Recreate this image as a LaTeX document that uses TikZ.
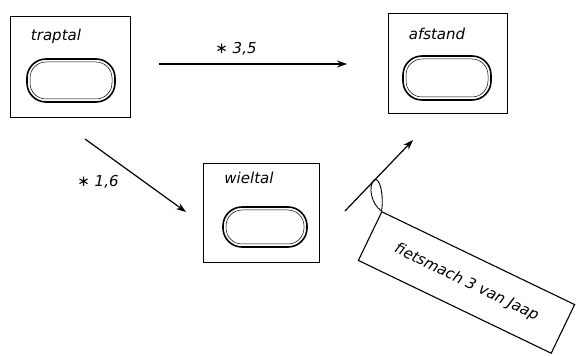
\documentclass[tikz,border=0pt]{standalone}
\usepackage{fontspec}
\setmainfont{DejaVu Sans}
\usetikzlibrary{arrows.meta}
\tikzset{
  knob/.style={draw, line width=1.6pt, rounded corners=19pt},
  knobin/.style={draw, line width=0.5pt, rounded corners=16pt},
  lbl/.style={font=\itshape\fontsize{15}{17}\selectfont, inner sep=0pt},
  conn/.style={line width=1.2pt, -{Stealth[length=10pt,width=7pt]}},
}
\begin{document}
\begin{tikzpicture}[x=1pt,y=1pt]
\useasboundingbox (0,0) rectangle (576,356);
% boxes
\node[draw, line width=0.8pt, minimum width=120pt, minimum height=101pt, inner sep=0pt] (traptal) at (70,289.5) {};
\node[draw, line width=0.8pt, minimum width=119pt, minimum height=100pt, inner sep=0pt] (afstand) at (447.5,293) {};
\node[draw, line width=0.8pt, minimum width=116pt, minimum height=99pt, inner sep=0pt] (wieltal) at (261,143.5) {};
% knobs
\draw[knob] (27,254) rectangle (115,297);
\draw[knobin] (30,257) rectangle (112,294);
\draw[knob] (403,256) rectangle (491,300);
\draw[knobin] (406,259) rectangle (488,297);
\draw[knob] (223,109) rectangle (307,149);
\draw[knobin] (226,112) rectangle (304,146);
% labels
\node[lbl] (lt) at (56,320) {traptal};
\node[lbl] (la) at (437,322) {afstand};
\node[lbl] (lw) at (249,178) {wieltal};
% connectors
\coordinate (a1s) at (159,292);
\coordinate (a1e) at (347,292);
\draw[conn] (a1s) -- (a1e);
\node[lbl] (m35) at (236,307) {∗ 3,5};
\coordinate (a2s) at (85,217);
\coordinate (a2e) at (186,144);
\draw[conn] (a2s) -- (a2e);
\node[lbl] (m16) at (98,174) {∗ 1,6};
\coordinate (a3s) at (345,145);
\coordinate (a3e) at (413,216);
\draw[conn] (a3s) -- (a3e);
% note
\node[draw, line width=1.1pt, minimum width=214pt, minimum height=54pt, rotate=-25.7, inner sep=0pt,
      font=\itshape\fontsize{15}{17}\selectfont] (note) at (466.5,73.5) {fietsmach 3 van Jaap};
\draw[line width=0.9pt] (note.north west) .. controls (371,152) and (368,170) .. (374,176)
  .. controls (380,180) and (384,160) .. (note.north west);
\end{tikzpicture}
\end{document}
